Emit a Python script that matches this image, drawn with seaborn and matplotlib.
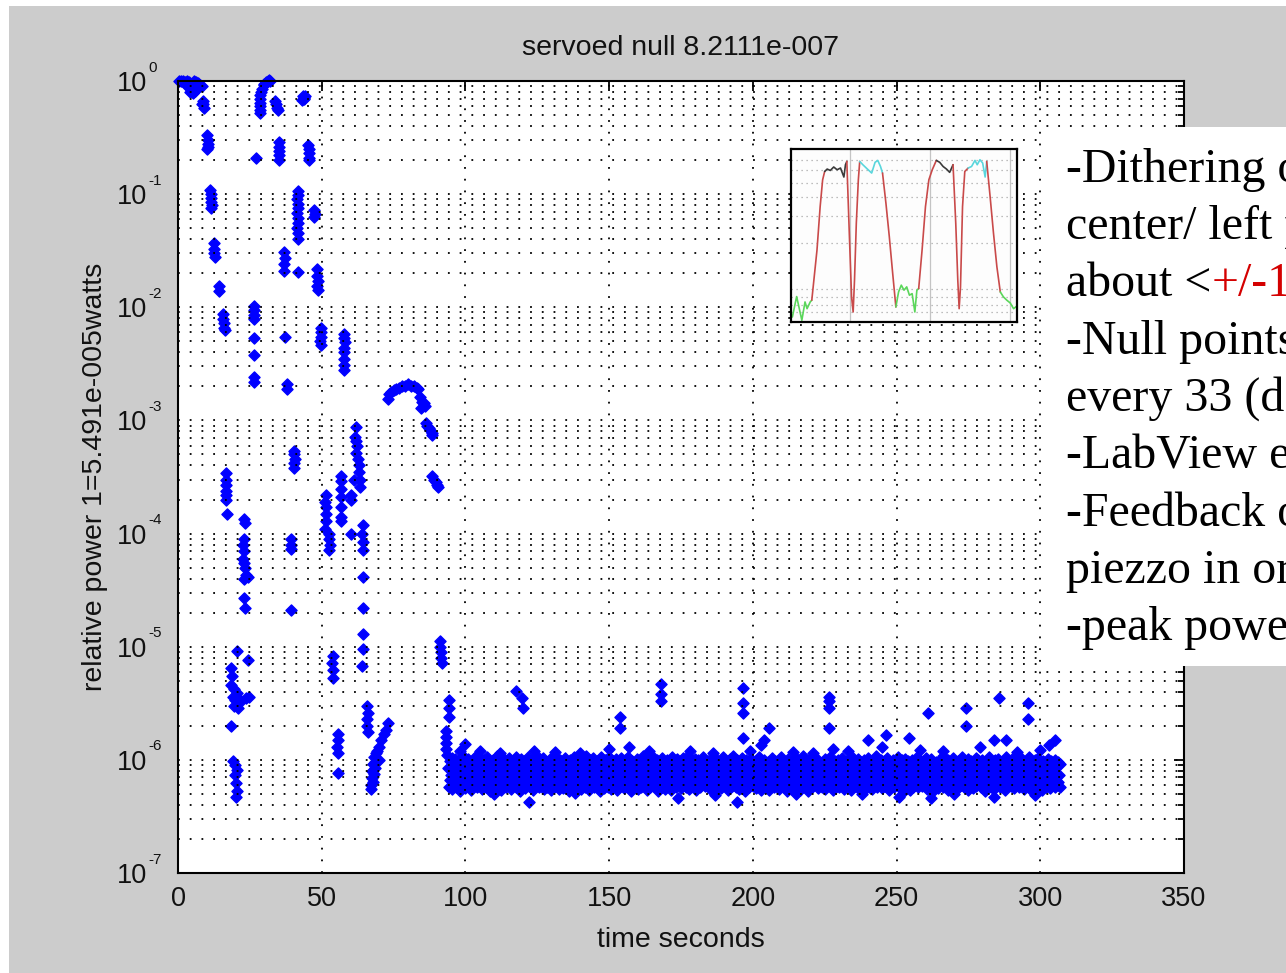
import numpy as np
import pandas as pd
import matplotlib
matplotlib.use("Agg")
import matplotlib.pyplot as plt
from matplotlib.patches import Rectangle
from matplotlib.text import Annotation
from matplotlib.ticker import LogLocator, NullFormatter, NullLocator
import seaborn as sns

# ---------------------------------------------------------------- data
TITLE = "servoed null 8.2111e-007"
X_LABEL = "time seconds"
Y_LABEL = "relative power 1=5.491e-005watts"
X_TICKS = [0, 50, 100, 150, 200, 250, 300, 350]
Y_DECADES = [0, -1, -2, -3, -4, -5, -6, -7]

# acquisition phase (before the servo locks): (time s, relative power)
ACQ_POINTS = [
    (0.3, 1.0), (1.0, 1.0), (1.8, 1.0), (2.5, 0.98), (3.2, 1.0), (4.0, 0.97), (4.8, 0.95),
    (5.5, 1.0), (6.2, 0.98), (7.0, 0.96), (7.8, 0.93), (8.3, 0.90), (2.8, 0.92), (3.5, 0.90),
    (4.2, 0.80), (4.5, 0.85), (5.2, 0.78), (5.8, 0.82), (6.5, 0.86),
    (8.4, 0.63), (8.6, 0.66), (8.8, 0.62), (9.0, 0.58),
    (10.2, 0.33), (10.3, 0.30), (10.4, 0.28), (10.3, 0.26), (10.2, 0.25),
    (11.3, 0.108), (11.5, 0.100), (11.6, 0.092), (11.5, 0.085), (11.7, 0.080), (11.6, 0.076),
    (12.5, 0.037), (12.6, 0.033), (12.6, 0.030), (12.7, 0.028),
    (14.4, 0.0155), (14.3, 0.014),
    (15.6, 0.0087), (15.8, 0.0078), (16.0, 0.0072), (16.1, 0.0066), (16.2, 0.0063),
    (16.8, 3.4e-4), (16.7, 3.0e-4), (16.6, 2.7e-4), (16.7, 2.4e-4), (16.8, 2.2e-4),
    (16.7, 2.0e-4), (16.9, 1.5e-4),
    (23.0, 1.35e-4), (23.2, 1.25e-4), (22.8, 9.0e-5), (22.7, 8.0e-5), (22.8, 7.0e-5),
    (22.6, 6.0e-5), (22.9, 5.5e-5), (23.3, 5.0e-5), (23.8, 4.3e-5), (24.3, 4.1e-5),
    (22.8, 4.0e-5), (23.0, 2.7e-5), (23.2, 2.2e-5),
    (20.7, 9.2e-6), (24.2, 7.7e-6), (18.5, 6.5e-6), (18.9, 5.5e-6), (18.6, 4.6e-6),
    (19.5, 4.2e-6), (20.5, 3.9e-6), (19.0, 3.6e-6), (20.0, 3.4e-6), (21.0, 3.5e-6),
    (22.0, 3.3e-6), (23.5, 3.5e-6), (24.6, 3.6e-6), (19.6, 3.0e-6), (20.8, 2.9e-6),
    (18.4, 2.0e-6),
    (19.3, 9.8e-7), (20.0, 9.0e-7), (20.4, 8.2e-7), (19.8, 7.4e-7), (20.2, 6.2e-7),
    (20.4, 5.3e-7), (20.3, 4.7e-7),
    (26.4, 0.0102), (26.5, 0.0094), (26.5, 0.0086), (26.6, 0.0078), (26.5, 0.0053),
    (26.5, 0.0038), (26.3, 0.0024), (26.5, 0.0022),
    (27.3, 0.21),
    (28.4, 0.70), (28.5, 0.75), (28.5, 0.64), (28.6, 0.60), (28.5, 0.55), (28.7, 0.52),
    (28.9, 0.80), (29.2, 0.85), (29.8, 0.92), (30.0, 0.95), (30.5, 0.98), (31.2, 1.0),
    (31.5, 1.02), (32.0, 0.99),
    (33.6, 0.66), (34.0, 0.62), (34.4, 0.58), (34.8, 0.55),
    (35.2, 0.29), (35.3, 0.26), (35.2, 0.24), (35.1, 0.22), (35.3, 0.20),
    (36.9, 0.031), (37.1, 0.027), (37.0, 0.024), (36.9, 0.021), (37.2, 0.0055),
    (38.0, 0.0021), (37.9, 0.0019),
    (39.3, 9.0e-5), (39.2, 8.0e-5), (39.4, 7.3e-5), (39.2, 2.1e-5),
    (40.3, 5.4e-4), (40.4, 5.0e-4), (40.6, 4.6e-4), (40.3, 4.2e-4), (40.5, 3.8e-4),
    (41.6, 0.107), (41.6, 0.098), (41.5, 0.090), (41.7, 0.082), (41.6, 0.075),
    (41.5, 0.068), (41.6, 0.062), (41.7, 0.056), (41.5, 0.050), (41.6, 0.045),
    (41.7, 0.040), (41.6, 0.0205),
    (43.3, 0.68), (43.5, 0.74), (43.7, 0.71), (44.0, 0.69), (44.3, 0.73),
    (45.5, 0.23), (45.6, 0.25), (45.7, 0.21), (45.6, 0.20), (45.4, 0.27),
    (47.2, 0.072), (47.5, 0.067), (47.3, 0.063),
    (48.3, 0.022), (48.5, 0.019), (48.6, 0.017), (48.5, 0.0155), (48.6, 0.0142),
    (49.6, 0.0066), (49.8, 0.0060), (49.7, 0.0055), (49.5, 0.0050), (49.8, 0.0046),
    (51.5, 2.2e-4), (51.3, 1.9e-4), (51.4, 1.7e-4), (51.6, 1.5e-4), (51.4, 1.3e-4),
    (51.2, 1.1e-4),
    (52.6, 1.0e-4), (52.5, 9.0e-5), (52.8, 8.0e-5), (52.4, 7.2e-5),
    (53.8, 8.3e-6), (53.7, 7.2e-6), (53.9, 6.2e-6), (53.8, 5.3e-6),
    (55.5, 1.7e-6), (55.6, 1.5e-6), (55.4, 1.3e-6), (55.5, 1.15e-6), (55.5, 7.7e-7),
    (56.7, 3.2e-4), (56.6, 2.9e-4), (56.8, 2.5e-4), (56.7, 2.1e-4), (56.6, 1.7e-4),
    (56.8, 1.4e-4), (56.7, 1.3e-4),
    (57.6, 0.0058), (57.8, 0.0053), (58.0, 0.0049), (57.7, 0.0044), (57.8, 0.0040),
    (57.9, 0.0035), (57.7, 0.0031), (57.8, 0.0028),
    (60.1, 2.2e-4), (60.2, 2.0e-4), (60.1, 1.0e-4),
    (61.9, 8.7e-4), (61.5, 7.2e-4), (62.0, 6.6e-4), (62.3, 5.9e-4), (62.1, 5.2e-4),
    (62.5, 4.6e-4), (62.8, 4.0e-4), (63.0, 3.5e-4), (63.2, 3.0e-4), (63.4, 2.6e-4),
    (61.4, 3.0e-4),
    (64.2, 1.18e-4), (64.1, 1.0e-4), (64.3, 8.5e-5), (64.2, 7.1e-5), (64.2, 4.1e-5),
    (64.3, 2.2e-5), (64.2, 1.3e-5), (64.2, 9.5e-6), (64.1, 6.8e-6),
    (65.9, 3.0e-6), (66.0, 2.6e-6), (65.8, 2.3e-6), (65.9, 2.0e-6), (66.0, 1.75e-6),
    (72.9, 2.1e-6), (72.3, 1.85e-6), (71.5, 1.7e-6), (70.6, 1.5e-6), (69.8, 1.3e-6),
    (69.3, 1.2e-6), (69.0, 1.15e-6), (70.0, 1.0e-6), (68.6, 9.6e-7), (68.2, 1.05e-6),
    (67.8, 9.2e-7), (68.5, 8.5e-7), (67.6, 8.0e-7), (68.2, 7.5e-7), (67.5, 6.9e-7),
    (68.0, 6.4e-7), (67.3, 6.0e-7), (67.1, 5.5e-7),
    (72.9, 0.00155), (73.5, 0.0017), (74.2, 0.00178), (75.0, 0.00185), (76.0, 0.0019),
    (77.0, 0.00195), (78.0, 0.0020), (79.0, 0.0020), (80.0, 0.0021), (81.0, 0.0020),
    (82.0, 0.0020), (83.0, 0.00195), (83.6, 0.0019), (84.2, 0.0016), (84.8, 0.00145),
    (85.5, 0.00142), (84.5, 0.0013), (85.8, 0.00135),
    (86.3, 9.5e-4), (86.8, 9.0e-4), (87.3, 8.6e-4), (87.8, 8.2e-4), (88.2, 7.8e-4),
    (88.5, 7.4e-4),
    (88.5, 3.2e-4), (89.0, 3.0e-4), (89.6, 2.85e-4), (90.2, 2.7e-4), (90.5, 2.6e-4),
    (91.0, 1.12e-5), (91.3, 1.0e-5), (91.6, 9.0e-6), (91.5, 8.0e-6), (91.7, 7.2e-6),
    (94.2, 3.4e-6), (94.3, 2.9e-6), (94.2, 2.4e-6), (93.2, 1.8e-6), (93.3, 1.6e-6),
    (93.2, 1.4e-6), (93.4, 1.25e-6), (93.6, 1.1e-6),
]

# excursions away from the locked null: (time s, relative power)
LOCK_EXCURSIONS = [
    (100.0, 1.38e-6), (105.0, 1.2e-6), (117.5, 4.1e-6), (119.6, 3.5e-6), (119.9, 2.9e-6),
    (124.0, 1.2e-6), (150.0, 1.25e-6), (153.7, 2.4e-6), (153.7, 1.9e-6), (157.0, 1.3e-6),
    (168.0, 4.7e-6), (168.0, 3.8e-6), (168.0, 3.3e-6), (178.0, 1.2e-6),
    (196.4, 4.3e-6), (196.4, 3.2e-6), (196.4, 2.6e-6), (196.4, 1.55e-6),
    (203.0, 1.35e-6), (204.0, 1.5e-6), (205.5, 1.9e-6),
    (226.4, 3.6e-6), (226.6, 3.3e-6), (226.6, 2.9e-6), (226.6, 1.9e-6), (228.0, 1.25e-6),
    (240.0, 1.5e-6), (246.3, 1.65e-6), (254.4, 1.56e-6), (261.0, 2.6e-6),
    (274.0, 2.9e-6), (274.0, 2.0e-6), (284.0, 1.5e-6), (285.7, 3.5e-6), (288.0, 1.5e-6),
    (295.6, 3.2e-6), (295.6, 2.3e-6), (305.0, 1.5e-6),
    (122.0, 4.2e-7), (173.8, 4.6e-7), (194.6, 4.2e-7), (251.0, 4.7e-7), (262.0, 4.6e-7),
    (284.0, 4.7e-7),
    (98.0, 1.2e-6), (112.0, 1.15e-6), (131.0, 1.18e-6), (140.0, 1.15e-6), (164.0, 1.2e-6),
    (186.0, 1.15e-6), (199.0, 1.2e-6), (214.0, 1.18e-6), (221.0, 1.15e-6), (233.0, 1.2e-6),
    (245.0, 1.3e-6), (258.0, 1.22e-6), (266.0, 1.2e-6), (279.0, 1.3e-6), (292.0, 1.18e-6),
    (300.0, 1.22e-6), (303.0, 1.35e-6),
    (110.0, 5.0e-7), (138.0, 5.1e-7), (187.0, 4.9e-7), (215.0, 5.0e-7), (238.0, 5.0e-7),
    (270.0, 5.0e-7), (298.0, 4.9e-7),
]

# locked null, one sample every BAND_DT seconds from BAND_T0 (units of 1e-8)
BAND_T0 = 94.0
BAND_DT = 0.25
BAND_POWER_E8 = [
    84, 58, 97, 66, 73, 104, 55, 90, 62, 79, 101, 57, 70, 93, 64, 86, 53, 99, 75, 61,
    88, 108, 68, 56, 95, 77, 63, 102, 59, 83, 71, 92, 54, 67, 98, 80, 60, 105, 74, 87,
    57, 94, 69, 82, 103, 62, 76, 55, 91, 66, 99, 72, 85, 58, 107, 64, 78, 96, 53, 70,
    89, 61, 100, 74, 56, 93, 81, 67, 109, 59, 86, 72, 97, 63, 54, 90, 77, 102, 65, 83,
    58, 95, 71, 87, 60, 104, 75, 55, 92, 68, 81, 99, 62, 73, 106, 57, 84, 66, 94, 78,
    53, 101, 69, 88, 61, 97, 76, 56, 91, 65, 83, 107, 59, 72, 95, 80, 63, 100, 54, 86,
    74, 98, 60, 82, 67, 105, 57, 89, 71, 94, 62, 79, 103, 55, 87, 68, 96, 58, 77, 91,
    64, 102, 73, 54, 85, 97, 61, 70, 108, 59, 83, 92, 66, 76, 55, 99, 81, 63, 94, 72,
    56, 88, 104, 67, 78, 60, 95, 73, 53, 90, 100, 64, 82, 57, 71, 106, 86, 62, 97, 75,
    59, 93, 68, 80, 101, 55, 87, 74, 63, 96, 58, 84, 109, 66, 77, 91, 54, 70, 99, 61,
    85, 103, 72, 57, 94, 65, 79, 98, 60, 89, 69, 53, 105, 76, 62, 92, 81, 56, 100, 67,
    83, 96, 58, 74, 107, 63, 88, 55, 91, 70, 97, 61, 80, 102, 66, 54, 87, 73, 95, 59,
    78, 104, 64, 92, 56, 71, 99, 85, 60, 75, 106, 57, 90, 68, 82, 53, 98, 65, 86, 72,
    62, 94, 77, 101, 55, 89, 67, 81, 58, 96, 73, 108, 61, 84, 70, 93, 54, 79, 100, 66,
    87, 57, 97, 74, 63, 105, 82, 59, 90, 69, 76, 99, 53, 86, 64, 95, 72, 103, 58, 80,
    68, 92, 55, 84, 100, 61, 77, 96, 65, 88, 54, 107, 71, 83, 60, 94, 75, 57, 101, 89,
    63, 85, 98, 70, 56, 91, 79, 104, 62, 73, 95, 58, 86, 67, 109, 55, 82, 97, 66, 76,
    93, 60, 81, 102, 69, 54, 88, 74, 99, 63, 78, 57, 96, 85, 61, 106, 72, 90, 59, 83,
    71, 97, 64, 87, 55, 100, 76, 62, 93, 80, 53, 103, 68, 89, 58, 95, 74, 66, 98, 82,
    56, 90, 105, 73, 61, 84, 97, 67, 79, 54, 92, 70, 101, 63, 86, 59, 108, 75, 64, 94,
    81, 58, 99, 69, 87, 55, 96, 72, 60, 104, 77, 65, 91, 53, 83, 100, 62, 74, 97, 57,
    88, 66, 102, 76, 59, 93, 71, 85, 56, 98, 64, 80, 107, 61, 90, 68, 54, 95, 78, 63,
    100, 72, 57, 89, 65, 96, 82, 54, 92, 74, 61, 103, 69, 86, 58, 97, 77, 63, 94, 84,
    55, 91, 70, 106, 62, 79, 99, 58, 87, 67, 95, 73, 53, 101, 81, 64, 89, 56, 98, 75,
    66, 94, 83, 57, 103, 71, 88, 60, 97, 76, 54, 92, 65, 85, 109, 62, 78, 99, 59, 70,
    90, 53, 98, 74, 64, 86, 105, 57, 82, 69, 96, 61, 79, 93, 56, 100, 72, 88, 63, 84,
    58, 95, 67, 80, 102, 55, 91, 73, 62, 99, 85, 66, 107, 59, 77, 94, 54, 87, 70, 97,
    76, 61, 100, 84, 57, 93, 68, 81, 104, 63, 89, 55, 96, 71, 60, 98, 79, 65, 91, 74,
    54, 87, 106, 64, 78, 97, 59, 72, 92, 83, 56, 101, 67, 88, 62, 95, 75, 53, 99, 80,
    69, 96, 60, 85, 103, 58, 77, 93, 66, 89, 55, 98, 73, 82, 61, 108, 70, 57, 94, 86,
    63, 90, 78, 100, 56, 84, 71, 97, 59, 75, 104, 65, 91, 54, 80, 96, 68, 87, 62, 99,
    82, 57, 95, 72, 88, 61, 105, 67, 93, 56, 79, 99, 64, 86, 73, 53, 102, 76, 90, 60,
    97, 66, 83, 54, 91, 74, 100, 58, 87, 69, 95, 62, 81, 107, 57, 77, 92, 65, 85, 71,
    59, 98, 73, 89, 63, 104, 55, 82, 96, 68, 78, 60, 101, 84, 53, 93, 70, 88, 64, 95,
    75, 56, 92, 80, 66, 99, 61, 86, 109, 57, 90, 72, 97, 63, 83, 54, 100, 79, 67, 94,
    87, 62, 103, 70, 58, 95, 76, 91, 55, 84, 98, 65, 74, 89, 60, 106, 68, 81, 57, 96,
    64, 93, 79, 54, 101, 72, 85, 97, 61, 88, 67, 56, 94, 78, 103, 59, 83, 70, 99, 62,
    91, 58, 86, 100, 65, 77, 95, 53, 82, 73, 96, 60, 89, 105, 66, 75, 57, 92, 81, 97,
    55, 99, 68, 84, 62, 102, 74, 90, 57, 94, 80, 63, 98, 71, 87, 54, 107, 76, 61, 88,
    83, 70, 96, 59, 91, 66, 104, 78, 56, 100, 85, 64, 93, 72, 58, 97, 81, 67, 101, 60,
    95, 74, 55, 88, 69, 99, 62, 82, 106, 57, 90, 76, 53, 94, 65, 86, 100, 73, 59, 92,
    68, 103, 80, 61, 96, 75, 54, 87, 98, 63, 79, 92, 58, 85, 71, 102, 66, 89, 56, 97,
    77, 60, 93, 84, 57, 100, 70, 88, 64, 95, 73, 58, 91,
]

# scope trace of the dithering (time 0-100, level 0-100), one entry per colored stretch
SCOPE_SEGMENTS = [
    ("#5ad65a", [0.6, 2.5, 4.8, 6.2, 7.1, 8.5, 9.2], [2.9, 14.7, 1.0, 11.6, 7.7, 11.6, 12.6]),
    ("#c94a4a", [9.2, 11.5, 12.9, 14.0, 14.9], [12.6, 41.6, 66.7, 82.2, 87.0]),
    ("#3a3a3a", [14.9, 16.0, 17.4, 18.9, 20.4, 21.9, 23.4, 24.1, 24.7],
     [87.0, 88.4, 87.6, 89.6, 88.0, 89.0, 83.8, 90.9, 92.8]),
    ("#c94a4a", [24.7, 25.9, 26.8, 27.5, 28.1, 28.9, 29.8, 30.4],
     [92.8, 47.4, 14.5, 5.8, 24.2, 57.1, 82.2, 92.8]),
    ("#5ad6dc", [30.4, 31.8, 33.8, 35.7, 37.2, 38.4, 39.6, 40.5],
     [92.8, 90.9, 88.4, 86.1, 92.3, 93.4, 89.9, 86.1]),
    ("#c94a4a", [40.5, 42.0, 43.5, 45.0, 46.4], [86.1, 68.7, 49.3, 28.0, 8.7]),
    ("#5ad65a", [46.4, 47.6, 48.8, 50.0, 51.2, 52.4, 53.6, 54.8, 55.7, 56.5],
     [8.7, 17.4, 21.3, 18.4, 20.3, 15.5, 16.4, 5.8, 18.4, 19.3]),
    ("#c94a4a", [56.5, 58.0, 59.5, 61.0, 62.5, 64.3], [19.3, 41.6, 66.7, 82.2, 88.0, 93.4]),
    ("#3a3a3a", [64.3, 65.8, 67.3, 68.8, 70.2, 71.7], [93.4, 92.3, 89.9, 88.4, 86.5, 90.9]),
    ("#c94a4a", [71.7, 72.9, 73.8, 74.4, 75.0, 75.9, 76.9, 78.4],
     [90.9, 57.1, 24.2, 7.7, 20.3, 66.7, 87.0, 89.0]),
    ("#5ad6dc", [78.4, 79.9, 81.4, 82.4, 83.6, 84.8, 85.9, 86.6],
     [89.0, 89.9, 93.4, 90.9, 93.8, 91.9, 83.8, 92.8]),
    ("#c94a4a", [86.6, 88.1, 89.6, 91.1, 92.6], [92.8, 72.5, 51.3, 31.9, 17.4]),
    ("#5ad65a", [92.6, 94.0, 95.5, 97.0, 98.5, 100.0], [17.4, 14.5, 12.6, 11.0, 7.7, 9.3]),
]
SCOPE_VGRID = [26.3, 61.3, 97.0]
SCOPE_HGRID = [5.8, 9.7, 14.5, 19.3, 45.5, 61.3, 72.1, 80.6, 87.6, 93.8]

NOTE_LINES = [
    "-Dithering o",
    "center/ left p",
    "about <",
    "-Null points",
    "every 33 (d",
    "-LabView e",
    "-Feedback o",
    "piezzo in or",
    "-peak powe",
]
NOTE_HIGHLIGHT_LINE = 2
NOTE_HIGHLIGHT = "+/-1"

# ---------------------------------------------------------------- style
sns.set_theme(style="white")
plt.rcParams["font.family"] = ["Liberation Sans", "DejaVu Sans"]

W, H = 1286, 973
fig = plt.figure(figsize=(W / 100, H / 100), dpi=100, facecolor="white")
fig.add_artist(Rectangle((9 / W, 0), 1, 967 / H, transform=fig.transFigure,
                         facecolor="#cccccc", edgecolor="none", zorder=-5))

ax = fig.add_axes([178 / W, (H - 873) / H, (1184 - 178) / W, (873 - 81) / H])
ax.set_facecolor("white")

acq_t, acq_p = zip(*ACQ_POINTS)
exc_t, exc_p = zip(*LOCK_EXCURSIONS)
band_t = [BAND_T0 + i * BAND_DT for i in range(len(BAND_POWER_E8))]
band_p = [v * 1e-8 for v in BAND_POWER_E8]

df = pd.DataFrame({
    "time": list(acq_t) + band_t + list(exc_t),
    "power": list(acq_p) + band_p + list(exc_p),
})

sns.scatterplot(data=df, x="time", y="power", marker="D", s=32, color="#0000ff",
                edgecolor="#0000ff", linewidth=1.0, ax=ax, legend=False,
                clip_on=False, zorder=2)

ax.set_yscale("log")
ax.set_xlim(0, 350)
ax.set_ylim(1e-7, 1)
ax.set_axisbelow(False)

ax.set_xticks(X_TICKS)
ax.set_xticklabels([str(v) for v in X_TICKS])
ax.xaxis.set_minor_locator(NullLocator())
ax.set_yticks([10.0 ** k for k in Y_DECADES])
ax.set_yticklabels(["10"] * len(Y_DECADES))
ax.yaxis.set_minor_locator(LogLocator(base=10, subs=[2, 3, 4, 5, 6, 7, 8, 9], numticks=20))
ax.yaxis.set_minor_formatter(NullFormatter())

ax.tick_params(which="both", direction="in", top=True, right=True, width=1.3,
               color="black", labelcolor="#111111")
ax.tick_params(which="major", length=7)
ax.tick_params(which="minor", length=4)
ax.tick_params(axis="y", which="major", pad=22.5, labelsize=19.5)
ax.tick_params(axis="x", which="major", pad=9.5, labelsize=19.5)

for sp in ax.spines.values():
    sp.set_color("black")
    sp.set_linewidth(1.5)

dot = (0, (1, 5.5))
ax.grid(True, which="major", axis="x", color="black", linestyle=dot, linewidth=1.3)
ax.grid(True, which="both", axis="y", color="black", linestyle=dot, linewidth=1.3)

# exponents of the decade labels
for k in Y_DECADES:
    ax.annotate(f"{k}", xy=(0, 10.0 ** k), xycoords=ax.get_yaxis_transform(),
                xytext=(-21.5, 6.8), textcoords="offset points", ha="left",
                va="baseline", fontsize=11, color="#111111")

ax.set_title(TITLE, fontsize=20.5, pad=19, color="#111111")
ax.set_xlabel(X_LABEL, fontsize=20.5, labelpad=11, color="#111111")
ax.set_ylabel(Y_LABEL, fontsize=20.5, labelpad=6, color="#111111")

# ---------------------------------------------------------------- scope trace inset
ax_in = fig.add_axes([791 / W, (H - 322) / H, (1017 - 791) / W, (322 - 149) / H])
ax_in.set_facecolor("#fdfdfd")
for color, u, v in SCOPE_SEGMENTS:
    sns.lineplot(x=u, y=v, sort=False, estimator=None, color=color, linewidth=1.2,
                 ax=ax_in, legend=False)
ax_in.set_xlim(0, 100)
ax_in.set_ylim(0, 100)
ax_in.set_xticks(SCOPE_VGRID)
ax_in.set_yticks(SCOPE_HGRID)
ax_in.tick_params(length=0, labelbottom=False, labelleft=False)
ax_in.grid(True, axis="x", color="#c4c4c4", linewidth=0.9, linestyle="-")
ax_in.grid(True, axis="y", color="#a8a8a8", linewidth=0.9, linestyle=(0, (1, 3)))
ax_in.set_axisbelow(True)
ax_in.set_xlabel("")
ax_in.set_ylabel("")
for sp in ax_in.spines.values():
    sp.set_color("black")
    sp.set_linewidth(1.6)

# ---------------------------------------------------------------- notes panel
fig.add_artist(Rectangle((1044 / W, (H - 666) / H), 1, (666 - 127) / H,
                         transform=fig.transFigure, facecolor="white",
                         edgecolor="none", zorder=4))
serif = ["Liberation Serif", "DejaVu Serif"]
for i, line in enumerate(NOTE_LINES):
    y = 1 - (181.7 + i * 57.3) / H
    t = fig.text(1066 / W, y, line, fontsize=34.5, family=serif, va="baseline",
                 color="black", zorder=5)
    if i == NOTE_HIGHLIGHT_LINE:
        red = Annotation(NOTE_HIGHLIGHT, xy=(1, 0), xycoords=t, ha="left", va="bottom",
                         fontsize=34.5, family=serif, color="#d40000", zorder=5)
        fig.add_artist(red)

fig.savefig("out.png", dpi=100)
